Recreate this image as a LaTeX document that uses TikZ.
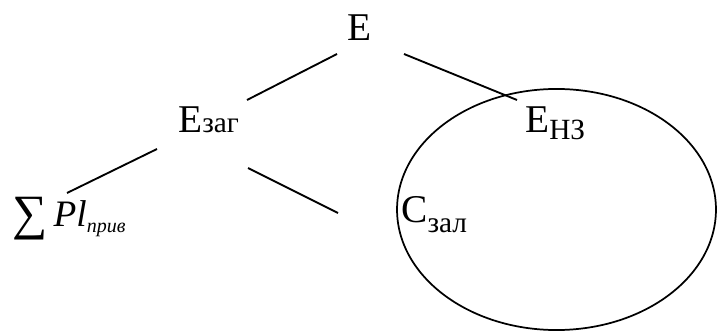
\documentclass[tikz,border=0pt]{standalone}
\usepackage{fontspec}
\setmainfont{Liberation Serif}
\newcommand\subtxt[2][0pt]{\raisebox{-#1}{\fontsize{22}{24}\selectfont #2}}
\begin{document}
\begin{tikzpicture}[x=0.75pt,y=-0.75pt,
  lbl/.style={inner sep=0pt, anchor=base west, font=\fontsize{29.5}{31}\selectfont},
  link/.style={line width=1.4pt}]
\useasboundingbox (0,0) rectangle (717,331);
% ellipse
\draw[line width=1.3pt] (556.5,209.5) ellipse [x radius=119.6pt, y radius=90.4pt];
% labels
\node[lbl] (E) at (347,41) {E};
\node[lbl] (Ezag) at (178,133) {E\subtxt{заг}};
\node[lbl] (Enz) at (525,133) {E\subtxt[5pt]{НЗ}};
\node[lbl] (Czal) at (401,223) {C\subtxt[7pt]{зал}};
\node[lbl, font=\fontsize{28}{30}\selectfont] (Pl) at (12,227) {\raisebox{-2pt}{\fontsize{37}{37}\selectfont ∑}\,\textit{Pl}\raisebox{-4pt}{\fontsize{15}{15}\selectfont\itshape прив}};
% connectors
\coordinate (a1) at (337,54); \coordinate (a2) at (247,100);
\coordinate (b1) at (404,54); \coordinate (b2) at (517,100);
\coordinate (c1) at (157,149); \coordinate (c2) at (67,193);
\coordinate (d1) at (248,168); \coordinate (d2) at (338,213);
\draw[link] (a1) -- (a2);
\draw[link] (b1) -- (b2);
\draw[link] (c1) -- (c2);
\draw[link] (d1) -- (d2);
\end{tikzpicture}
\end{document}
